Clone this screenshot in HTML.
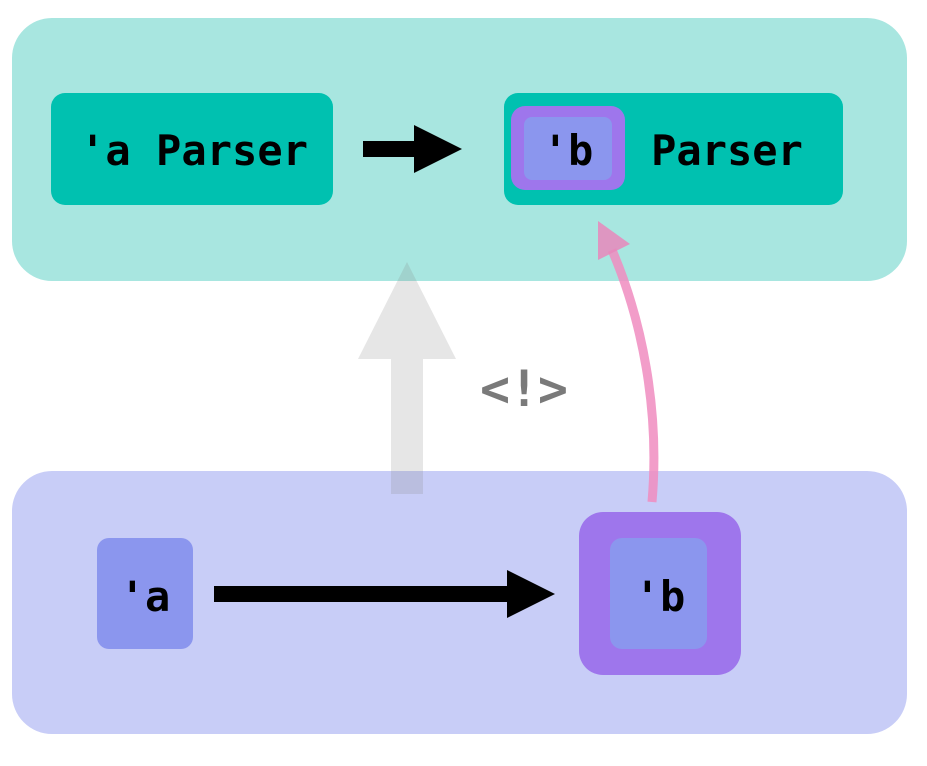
<!DOCTYPE html>
<html><head><meta charset="utf-8"><style>
html,body{margin:0;padding:0;background:#fff;}
svg{display:block;}
text{font-family:"DejaVu Sans Mono","Liberation Mono",monospace;font-weight:bold;}
</style></head><body>
<svg width="927" height="766" viewBox="0 0 927 766" xmlns="http://www.w3.org/2000/svg">
<rect x="12" y="18" width="895" height="263" rx="40" fill="#a8e6e0"/>
<rect x="12" y="471" width="895" height="263" rx="40" fill="#c8cdf7"/>
<rect x="51" y="93" width="282" height="112" rx="14" fill="#00c1b0"/>
<text x="194" y="165" font-size="42" text-anchor="middle" fill="#000" textLength="228">'a Parser</text>
<rect x="363" y="141" width="54" height="16" fill="#000"/>
<polygon points="414,125 462,149 414,173" fill="#000"/>
<rect x="504" y="93" width="339" height="112" rx="14" fill="#00c1b0"/>
<rect x="511" y="106" width="114" height="84" rx="14" fill="#9e76ec"/>
<rect x="524" y="117" width="88" height="63" rx="8" fill="#8b96ee"/>
<text x="568" y="165" font-size="42" text-anchor="middle" fill="#000">'b</text>
<text x="727" y="165" font-size="42" text-anchor="middle" fill="#000">Parser</text>
<g fill="rgb(128,128,128)" fill-opacity="0.2">
<polygon points="407,262 456,359 423,359 423,494 391,494 391,359 358,359"/>
</g>
<text x="524" y="406" font-size="50" text-anchor="middle" fill="#7a7a7a" textLength="88">&lt;!&gt;</text>
<path d="M652,502 C660,410 642,320 612,250" stroke="#f08cc0" stroke-opacity="0.85" stroke-width="9" fill="none"/>
<polygon points="598,221 630,244 598,260" fill="#e887bb" fill-opacity="0.85"/>
<rect x="97" y="538" width="96" height="111" rx="12" fill="#8b96ee"/>
<text x="145" y="611" font-size="42" text-anchor="middle" fill="#000">'a</text>
<rect x="214" y="586" width="296" height="16" fill="#000"/>
<polygon points="507,570 555,594 507,618" fill="#000"/>
<rect x="579" y="512" width="162" height="163" rx="24" fill="#9e76ec"/>
<rect x="610" y="538" width="97" height="111" rx="12" fill="#8b96ee"/>
<text x="660" y="611" font-size="42" text-anchor="middle" fill="#000">'b</text>
</svg>
</body></html>
